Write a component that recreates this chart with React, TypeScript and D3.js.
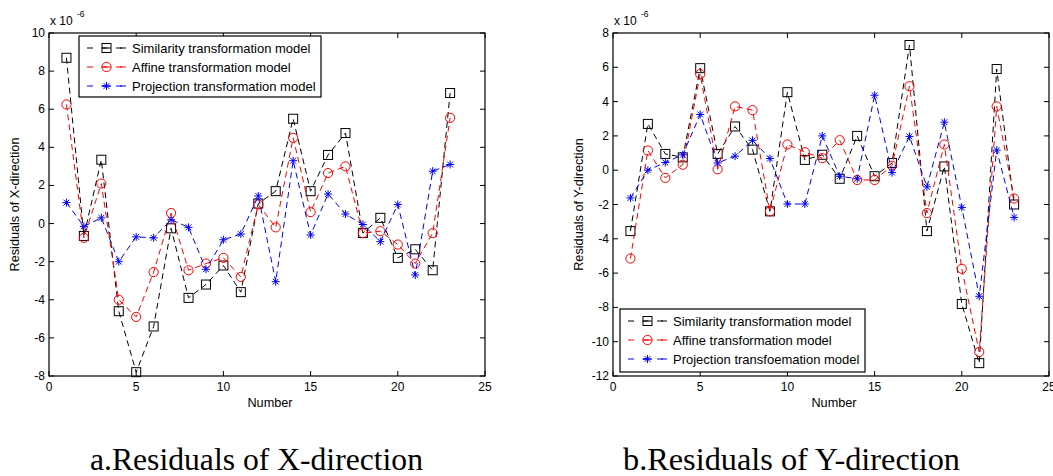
import React from 'react';
import * as d3 from 'd3';

// svg size
const svgWidth = 1053;
const svgHeight = 476;
const plotWidth = 436; // width of each axes box
const plotTop = 33;
const plotBottom = 376;
const sansFont = '"Liberation Sans", Arial, sans-serif';
const serifFont = '"Liberation Serif", "Times New Roman", serif';

// x values (point number)
const numbers = d3.range(1, 24);
const xTicks = [0, 5, 10, 15, 20, 25];

// residuals of X-direction (x 1e-6)
const simX = [8.7, -0.65, 3.35, -4.6, -7.8, -5.4, -0.25, -3.9, -3.2, -2.2, -3.6, 1.05, 1.7, 5.5, 1.7, 3.6, 4.75, -0.5, 0.3, -1.8, -1.35, -2.45, 6.85];
const affX = [6.25, -0.75, 2.1, -4.0, -4.9, -2.55, 0.55, -2.45, -2.1, -1.8, -2.8, 1.0, -0.2, 4.5, 0.6, 2.65, 3.0, -0.5, -0.4, -1.1, -2.1, -0.5, 5.55];
const projX = [1.1, -0.15, 0.3, -2.0, -0.7, -0.75, 0.2, -0.2, -2.4, -0.85, -0.55, 1.45, -3.05, 3.3, -0.6, 1.55, 0.5, -0.05, -0.95, 1.0, -2.7, 2.75, 3.1];
const yTicksX = [-8, -6, -4, -2, 0, 2, 4, 6, 8, 10];

// residuals of Y-direction (x 1e-6)
const simY = [-3.55, 2.7, 0.95, 0.75, 5.95, 0.95, 2.55, 1.2, -2.4, 4.55, 0.6, 0.9, -0.5, 2.0, -0.35, 0.42, 7.3, -3.55, 0.22, -7.8, -11.25, 5.9, -2.0];
const affY = [-5.15, 1.15, -0.45, 0.32, 5.6, 0.05, 3.72, 3.5, -2.4, 1.5, 1.05, 0.7, 1.75, -0.57, -0.57, 0.26, 4.9, -2.5, 1.5, -5.75, -10.6, 3.72, -1.65];
const projY = [-1.62, 0.0, 0.45, 0.9, 3.25, 0.42, 0.82, 1.74, 0.68, -1.97, -1.97, 2.0, -0.35, -0.5, 4.37, -0.14, 1.97, -0.97, 2.8, -2.17, -7.35, 1.17, -2.75];
const yTicksY = [-12, -10, -8, -6, -4, -2, 0, 2, 4, 6, 8];

const colors = ['#000000', '#ff0000', '#0000ff'];
const markers = ['square', 'circle', 'star'];

// draw one marker shape centred on (x, y)
function Marker({ kind, x, y, color }) {
  if (kind === 'square') {
    return <rect x={x - 4.5} y={y - 4.5} width={9} height={9} fill="none" stroke={color} strokeWidth={1} />;
  }
  if (kind === 'circle') {
    return <circle cx={x} cy={y} r={4.6} fill="none" stroke={color} strokeWidth={1} />;
  }
  const s = 4;
  const d = 2.9;
  return (
    <g stroke={color} strokeWidth={1}>
      <line x1={x - s} y1={y} x2={x + s} y2={y} />
      <line x1={x} y1={y - s} x2={x} y2={y + s} />
      <line x1={x - d} y1={y - d} x2={x + d} y2={y + d} />
      <line x1={x - d} y1={y + d} x2={x + d} y2={y - d} />
    </g>
  );
}

function Panel({ left, series, names, yTicks, yLabel, legend }) {
  const xScale = d3.scaleLinear().domain([0, 25]).range([left, left + plotWidth]);
  const yScale = d3.scaleLinear()
    .domain([yTicks[0], yTicks[yTicks.length - 1]])
    .range([plotBottom, plotTop]);
  const line = d3.line<number>()
    .x((d, i) => xScale(numbers[i]))
    .y((d) => yScale(d));
  const right = left + plotWidth;
  const tickLen = 5;

  return (
    <g fontFamily={sansFont} fill="#000">
      {/* series */}
      {series.map((vals, si) => (
        <g key={si}>
          <path d={line(vals)} fill="none" stroke={colors[si]} strokeWidth={1} strokeDasharray="6,4" />
          {vals.map((v, i) => (
            <Marker key={i} kind={markers[si]} x={xScale(numbers[i])} y={yScale(v)} color={colors[si]} />
          ))}
        </g>
      ))}

      {/* axes box with inward ticks */}
      <rect x={left} y={plotTop} width={plotWidth} height={plotBottom - plotTop} fill="none" stroke="#000" strokeWidth={1.2} />
      {xTicks.map((t) => (
        <g key={'x' + t}>
          <line x1={xScale(t)} x2={xScale(t)} y1={plotBottom} y2={plotBottom - tickLen} stroke="#000" />
          <line x1={xScale(t)} x2={xScale(t)} y1={plotTop} y2={plotTop + tickLen} stroke="#000" />
          <text x={xScale(t)} y={plotBottom + 15} fontSize={12} textAnchor="middle">{t}</text>
        </g>
      ))}
      {yTicks.map((t) => (
        <g key={'y' + t}>
          <line x1={left} x2={left + tickLen} y1={yScale(t)} y2={yScale(t)} stroke="#000" />
          <line x1={right} x2={right - tickLen} y1={yScale(t)} y2={yScale(t)} stroke="#000" />
          <text x={left - 4} y={yScale(t) + 4} fontSize={12} textAnchor="end">{t}</text>
        </g>
      ))}

      {/* exponent */}
      <text x={left + 1} y={25} fontSize={12}>x 10</text>
      <text x={left + 28} y={17} fontSize={8.5}>-6</text>

      {/* axis titles */}
      <text x={(left + right) / 2 + 3} y={plotBottom + 31} fontSize={12.7} textAnchor="middle">Number</text>
      <text
        transform={`translate(${left - 30},${(plotTop + plotBottom) / 2}) rotate(-90)`}
        fontSize={12.7}
        textAnchor="middle"
      >
        {yLabel}
      </text>

      {/* legend */}
      <rect x={legend.x} y={legend.y} width={legend.w} height={legend.h} fill="#fff" stroke="#000" strokeWidth={1.2} />
      {names.map((name, i) => {
        const cy = legend.y + 12 + i * 19;
        const lx = legend.x + 8;
        return (
          <g key={name}>
            <line x1={lx} x2={lx + 39} y1={cy} y2={cy} stroke={colors[i]} strokeWidth={1} strokeDasharray="6,8.5" />
            <line x1={lx + 33} x2={lx + 39} y1={cy} y2={cy} stroke={colors[i]} strokeWidth={1} />
            <Marker kind={markers[i]} x={lx + 19.5} y={cy} color={colors[i]} />
            <line x1={lx + 15} x2={lx + 24} y1={cy} y2={cy} stroke={colors[i]} strokeWidth={1} />
            <text x={lx + 45} y={cy + 4.5} fontSize={13}>{name}</text>
          </g>
        );
      })}
    </g>
  );
}

export default function App() {
  return (
    <svg
      width={svgWidth}
      height={svgHeight}
      style={{ position: 'absolute', left: 0, top: 0, background: '#fff' }}
    >
      <Panel
        left={49}
        series={[simX, affX, projX]}
        names={['Similarity transformation model', 'Affine transformation model', 'Projection transformation model']}
        yTicks={yTicksX}
        yLabel="Residuals of X-direction"
        legend={{ x: 79, y: 36, w: 242, h: 61 }}
      />
      <Panel
        left={613}
        series={[simY, affY, projY]}
        names={['Similarity transformation model', 'Affine transformation model', 'Projection transfoemation model']}
        yTicks={yTicksY}
        yLabel="Residuals of Y-direction"
        legend={{ x: 620, y: 309, w: 245, h: 63 }}
      />
      <text x={90} y={470} fontFamily={serifFont} fontSize={32} textLength={333} lengthAdjust="spacingAndGlyphs">
        a.Residuals of X-direction
      </text>
      <text x={623} y={470} fontFamily={serifFont} fontSize={32} textLength={337} lengthAdjust="spacingAndGlyphs">
        b.Residuals of Y-direction
      </text>
    </svg>
  );
}
